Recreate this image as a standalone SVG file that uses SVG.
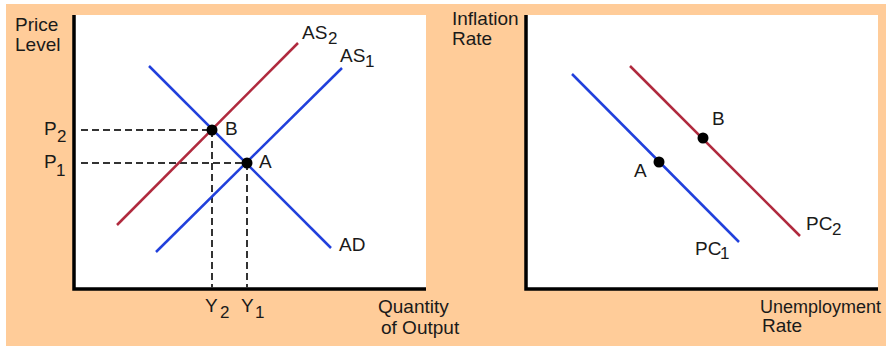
<svg xmlns="http://www.w3.org/2000/svg" width="886" height="347" viewBox="0 0 886 347">
<style>
text{font-family:"Liberation Sans",Arial,sans-serif;font-size:19px;fill:#1a1a1a}
.sub{font-size:17px}
.axis{stroke:#000;stroke-width:3.5;fill:none}
.blue{stroke:#2140DC;stroke-width:2.5;fill:none}
.red{stroke:#B02A3E;stroke-width:2.5;fill:none}
.dash{stroke:#333;stroke-width:2;stroke-dasharray:7 4;fill:none}
.dot{fill:#000}
</style>
<rect x="0" y="0" width="886" height="347" fill="#fff"/>
<rect x="6" y="4" width="880" height="342" fill="#FFCC99"/>
<g id="left-panel">
<rect x="73" y="15" width="353" height="275" fill="#fff"/>
<path class="axis" d="M74 15 V289 H426"/>
<text x="15" y="31">Price</text>
<text x="15" y="51">Level</text>
<text x="378" y="313">Quantity</text>
<text x="381" y="334">of Output</text>
</g>
<g id="connectors">
<path class="dash" d="M81 130 H212 M81 163 H247 M212 130 V288 M247 163 V288"/>
</g>
<g id="AS2">
<line class="red" x1="117" y1="225" x2="298" y2="43"/>
<text x="302" y="39">AS</text><text class="sub" x="328" y="44">2</text>
</g>
<g id="AS1">
<line class="blue" x1="156" y1="252" x2="342" y2="68"/>
<text x="340" y="62">AS</text><text class="sub" x="365" y="67">1</text>
</g>
<g id="AD">
<line class="blue" x1="149" y1="66" x2="331" y2="248"/>
<text x="339" y="251">AD</text>
</g>
<g id="point-B-left">
<circle class="dot" cx="212" cy="130" r="5.5"/>
<text x="225" y="135">B</text>
</g>
<g id="point-A-left">
<circle class="dot" cx="247" cy="163" r="5.5"/>
<text x="259" y="168">A</text>
</g>
<g id="P-labels">
<text x="44" y="135">P</text><text class="sub" x="57" y="142">2</text>
<text x="44" y="168">P</text><text class="sub" x="56" y="176">1</text>
</g>
<g id="Y-labels">
<text x="205" y="312">Y</text><text class="sub" x="220" y="318">2</text>
<text x="241" y="312">Y</text><text class="sub" x="255" y="318">1</text>
</g>
<g id="right-panel">
<rect x="526" y="15" width="352" height="275" fill="#fff"/>
<path class="axis" d="M526 15 V289 H878"/>
<text x="452" y="25">Inflation</text>
<text x="452" y="45">Rate</text>
<text x="760" y="313" style="font-size:18px">Unemployment</text>
<text x="762" y="332">Rate</text>
</g>
<g id="PC1">
<line class="blue" x1="572" y1="74" x2="739" y2="242"/>
<text x="695" y="255">PC</text><text class="sub" x="720" y="259">1</text>
</g>
<g id="PC2">
<line class="red" x1="630" y1="66" x2="800" y2="236"/>
<text x="806" y="230">PC</text><text class="sub" x="832" y="235">2</text>
</g>
<g id="point-A-right">
<circle class="dot" cx="659" cy="162" r="5.5"/>
<text x="634" y="177">A</text>
</g>
<g id="point-B-right">
<circle class="dot" cx="703" cy="138" r="5.5"/>
<text x="712" y="125">B</text>
</g>
</svg>
